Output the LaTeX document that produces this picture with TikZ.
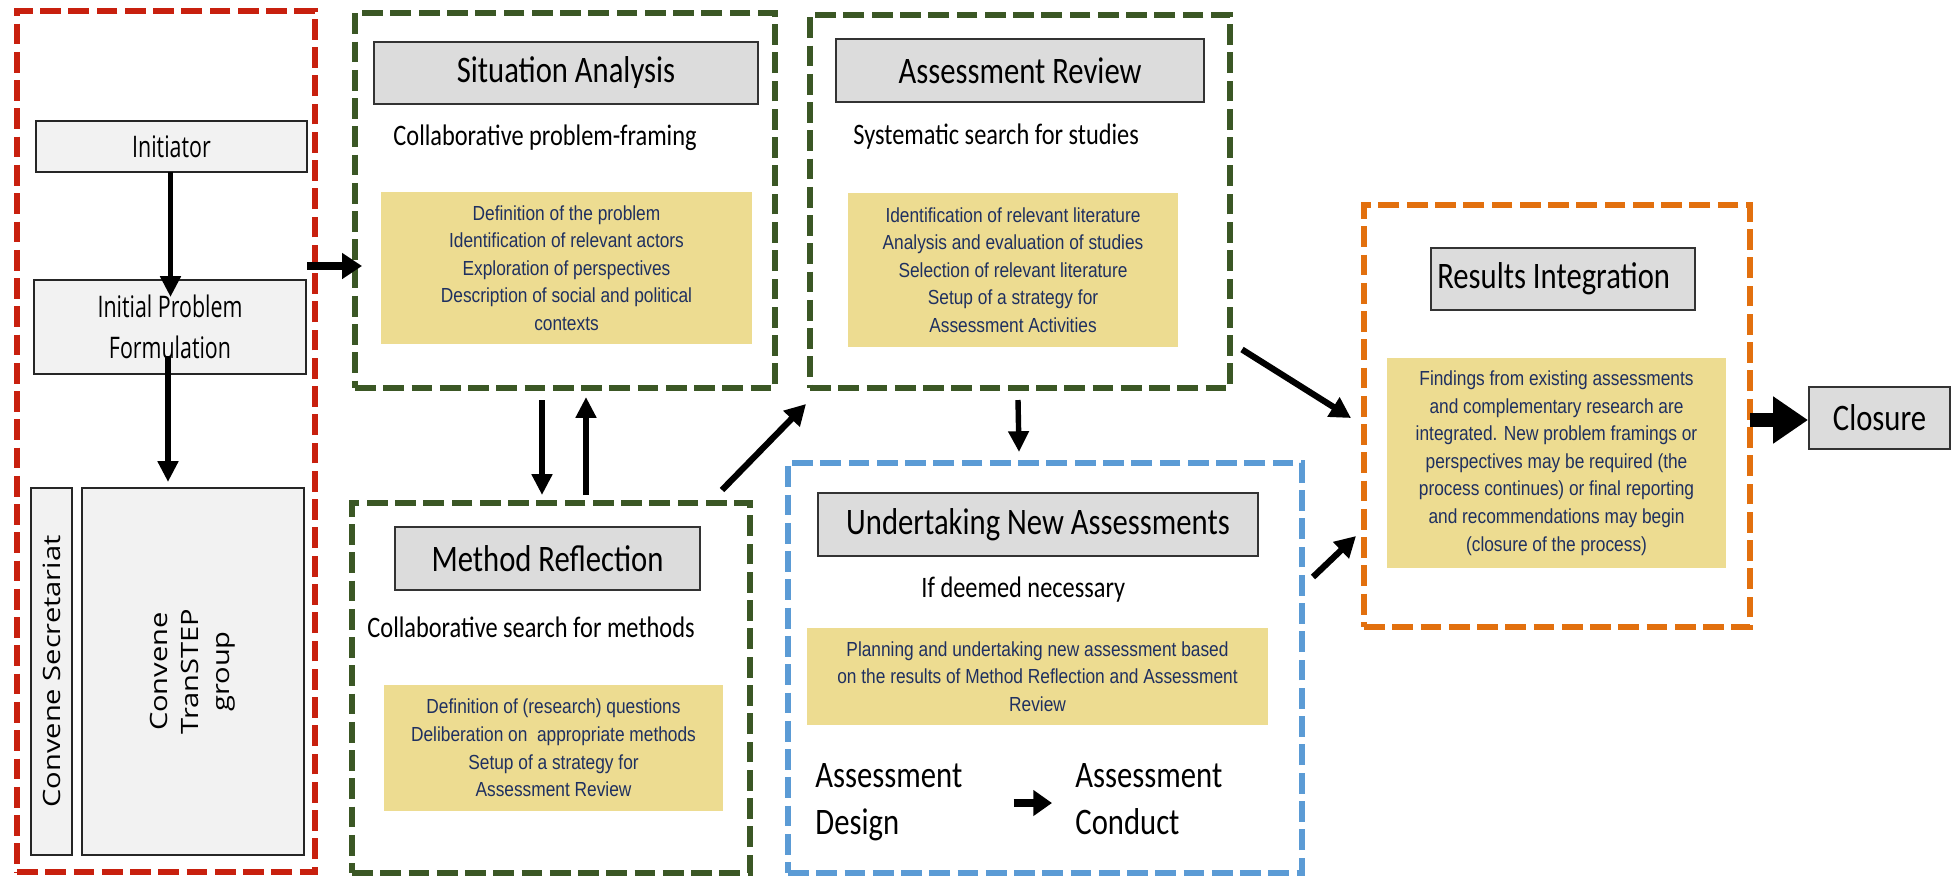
\documentclass[tikz,border=0pt]{standalone}
\usepackage{fontspec}
\usetikzlibrary{arrows.meta,fit,calc}
\newfontfamily\calfont[FakeStretch=0.82]{Carlito}
\newfontfamily\yfont[FakeStretch=0.85]{Liberation Sans}
\newfontfamily\osfont[FakeStretch=0.72]{Open Sans}
\newfontfamily\osrfont{Open Sans}
\definecolor{rd}{HTML}{C8200E}
\definecolor{gn}{HTML}{3B5725}
\definecolor{bl}{HTML}{5B9BD5}
\definecolor{org}{HTML}{E2700E}
\definecolor{yel}{HTML}{EDDC91}
\definecolor{ytext}{HTML}{1F3060}
\definecolor{tgray}{HTML}{DCDCDC}
\definecolor{lgray}{HTML}{F2F2F2}
\begin{document}
\begin{tikzpicture}[x=0.4812pt,y=-0.4812pt,
  wh/.style 2 args={minimum width=#1*0.4812pt, minimum height=#2*0.4812pt},
  frame/.style={draw, line width=3.3pt, dash pattern=on 10pt off 3.6pt, inner sep=0pt, outer sep=0pt},
  redframe/.style={frame, draw=rd},
  greenframe/.style={frame, draw=gn},
  blueframe/.style={frame, draw=bl, line width=2.9pt},
  orangeframe/.style={frame, draw=org},
  titlebox/.style={draw=black!80, fill=tgray, line width=1.1pt, inner sep=0pt, outer sep=0pt,
    font=\calfont\fontsize{18}{21}\selectfont},
  ybox/.style={fill=yel, text=ytext, inner sep=0pt, align=center,
    font=\yfont\fontsize{9.8}{13.3}\selectfont},
  lbox/.style={draw=black!85, fill=lgray, line width=0.9pt, inner sep=0pt, outer sep=0pt, align=center,
    font=\osfont\fontsize{14.3}{19.7}\selectfont},
  rottext/.style={xscale=0.82, rotate=90, inner sep=0pt, align=center,
    font=\osrfont\fontsize{14}{18.2}\selectfont},
  subtext/.style={anchor=west, inner sep=0pt, font=\calfont\fontsize{14.3}{17}\selectfont},
  bigtext/.style={anchor=north west, inner sep=0pt, align=left, font=\calfont\fontsize{18}{22.6}\selectfont},
  arr/.style={-{Triangle[width=9.5pt,length=10pt]}, line width=2.6pt},
  darr/.style={-{Triangle[width=10.5pt,length=10pt]}, line width=3pt},
  harr/.style={-{Triangle[width=12pt,length=9.6pt]}, line width=3.4pt},
  carr/.style={-{Triangle[width=21.6pt,length=16.8pt]}, line width=7.2pt},
  sarr/.style={-{Triangle[width=12pt,length=9pt]}, line width=4.3pt}
]
\useasboundingbox (0,0) rectangle (1955,879);

% ---------- left (red) block ----------
\node[redframe, fit={(17,11)(315,872)}] (red) {};
\node[lbox, wh={271}{51}] (init) at (171.5,146.5) {Initiator};
\node[lbox, wh={272}{94}] (ipf) at (170,327) {Initial Problem\\Formulation};
\node[lbox, fit={(31,488)(72,855)}] (sec) {};
\node[rottext] (sectxt) at (sec.center) {Convene Secretariat};
\node[lbox, fit={(82,488)(304,855)}] (grp) {};
\node[rottext] (grptxt) at (grp.center) {Convene\\TranSTEP\\group};

% ---------- Situation Analysis ----------
\node[greenframe, fit={(355,13)(775,388)}] (sa) {};
\node[titlebox, wh={384}{62}] (satitle) at (566,73) {Situation Analysis};
\node[subtext] (sasub) at (393,138) {Collaborative problem-framing};
\node[ybox, wh={371}{152}] (sayel) at (566.5,268) {Definition of the problem\\Identification of relevant actors\\Exploration of perspectives\\Description of social and political\\contexts};

% ---------- Assessment Review ----------
\node[greenframe, fit={(810,15)(1230,388)}] (ar) {};
\node[titlebox, wh={368}{63}] (artitle) at (1020,70.5) {Assessment Review};
\node[subtext] (arsub) at (853,137) {Systematic search for studies};
\node[ybox, wh={330}{154}] (aryel) at (1013,270) {Identification of relevant literature\\Analysis and evaluation of studies\\Selection of relevant literature\\Setup of a strategy for\\Assessment Activities};

% ---------- Method Reflection ----------
\node[greenframe, fit={(352,503)(750,873)}] (mr) {};
\node[titlebox, wh={305}{63}] (mrtitle) at (547.5,558.5) {Method Reflection};
\node[subtext] (mrsub) at (367,627) {Collaborative search for methods};
\node[ybox, wh={339}{126}] (mryel) at (553.5,748) {Definition of (research) questions\\Deliberation on\ \ appropriate methods\\Setup of a strategy for\\Assessment Review};

% ---------- Undertaking New Assessments ----------
\node[blueframe, fit={(788,463)(1302,873)}] (una) {};
\node[titlebox, wh={440}{63}] (unatitle) at (1038,524.5) {Undertaking New Assessments};
\node[subtext] (unasub) at (921,590) {If deemed necessary};
\node[ybox, wh={461}{97}] (unayel) at (1037.5,676.5) {Planning and undertaking new assessment based\\on the results of Method Reflection and Assessment\\Review};
\node[bigtext] (des) at (815,763) {Assessment\\Design};
\node[bigtext] (con) at (1075,763) {Assessment\\Conduct};

% ---------- Results Integration ----------
\node[orangeframe, fit={(1364,205)(1750,627)}] (ri) {};
\node[titlebox, wh={264}{62}, text width=121pt, align=flush left] (rititle) at (1563,279) {Results Integration};
\node[ybox, wh={339}{210}] (riyel) at (1556.5,463) {Findings from existing assessments\\and complementary research are\\integrated. New problem framings or\\perspectives may be required (the\\process continues) or final reporting\\and recommendations may begin\\(closure of the process)};
\node[titlebox, wh={141}{62}] (clo) at (1879.5,418) {Closure};

% ---------- connectors ----------
\draw[arr] ($(init.south)+(-1,0)$) -- ($(init.south |- ipf.north)+(-1,17)$);
\draw[arr] ($(ipf.south)+(-2,-18)$) -- ($(ipf.south |- grp.north)+(-2,-6)$);
\draw[harr] ($(red.north east)+(-8,255)$) -- ($(sa.north west)+(7,253)$);
\draw[arr] ($(sa.south west)+(187,12)$) -- ($(mr.north west)+(190,-8)$);
\draw[arr] ($(mr.north west)+(234,-8)$) -- ($(sa.south west)+(231,9)$);
\draw[darr] ($(mr.north east)+(-28,-13)$) -- ($(ar.south west)+(-4,16)$);
\draw[arr] ($(ar.south west)+(208,12)$) -- ($(una.north west)+(231,-11)$);
\draw[darr] ($(ar.east)+(12,148)$) -- ($(ri.west)+(-13,2)$);
\draw[darr] ($(una.north east)+(11,114)$) -- ($(ri.west)+(-8,120)$);
\draw[carr] ($(ri.east)+(0,4)$) -- ($(clo.west)+(-1,2)$);
\draw[sarr] ($(des.north east)+(51,40)$) -- ($(con.north west)+(-23,40)$);
\end{tikzpicture}
\end{document}
